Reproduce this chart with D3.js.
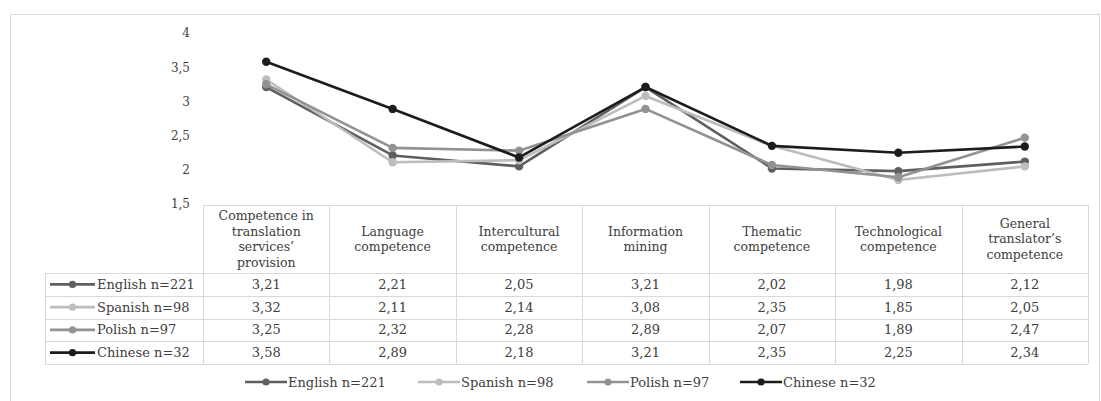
<!DOCTYPE html>
<html>
<head>
<meta charset="utf-8">
<script src="https://cdn.jsdelivr.net/npm/d3@7/dist/d3.min.js"></script>
<style>
  body { margin: 0; background: #fff; }
  svg { display: block; font-family: "DejaVu Serif", "Liberation Serif", serif; }
</style>
</head>
<body>
<div id="chart"></div>
<script>
// Competence self-assessment by language group - line chart with data table

const categories = [
    ['Competence in', 'translation', 'services\u2019', 'provision'],
    ['Language', 'competence'],
    ['Intercultural', 'competence'],
    ['Information', 'mining'],
    ['Thematic', 'competence'],
    ['Technological', 'competence'],
    ['General', 'translator\u2019s', 'competence']
];
const seriesNames = ['English n=221', 'Spanish n=98', 'Polish n=97', 'Chinese n=32'];
const english = [3.21, 2.21, 2.05, 3.21, 2.02, 1.98, 2.12];
const spanish = [3.32, 2.11, 2.14, 3.08, 2.35, 1.85, 2.05];
const polish  = [3.25, 2.32, 2.28, 2.89, 2.07, 1.89, 2.47];
const chinese = [3.58, 2.89, 2.18, 3.21, 2.35, 2.25, 2.34];
const yTicks = [1.5, 2, 2.5, 3, 3.5, 4];

const seriesColors = ['#5f5f5f', '#bdbdbd', '#929292', '#1c1c1c'];
const series = [english, spanish, polish, chinese].map((values, i) => ({
    name: seriesNames[i], values: values, color: seriesColors[i]
}));

const totalWidth = 1101, totalHeight = 401;
const svg = d3.select('#chart').append('svg')
    .attr('width', totalWidth)
    .attr('height', totalHeight);

// outer frame
svg.append('rect')
    .attr('x', 10.5).attr('y', 14.5)
    .attr('width', 1089).attr('height', 400)
    .style('fill', 'none')
    .style('stroke', '#d9d9d9');

// scales
const x = d3.scaleBand()
    .domain(d3.range(categories.length))
    .range([203, 1088])
    .paddingInner(0).paddingOuter(0);
const cx = i => x(i) + x.bandwidth() / 2;

const y = d3.scaleLinear()
    .domain([1.5, 4])
    .range([204, 33]);

const fmt = v => String(v).replace('.', ',');
const fmt2 = v => v.toFixed(2).replace('.', ',');

// y axis (labels only)
const yAxis = svg.append('g')
    .attr('transform', 'translate(193,0)')
    .call(d3.axisLeft(y).tickValues(yTicks).tickSize(0).tickPadding(3).tickFormat(fmt));
yAxis.select('.domain').remove();
yAxis.selectAll('text')
    .style('font-family', '"DejaVu Serif", serif')
    .style('font-size', '12px')
    .style('fill', '#404040');

// lines and markers
const line = d3.line()
    .x((d, i) => cx(i))
    .y(d => y(d));

const seriesG = svg.append('g').selectAll('g')
    .data(series)
    .enter().append('g');

seriesG.append('path')
    .attr('d', d => line(d.values))
    .style('fill', 'none')
    .style('stroke', d => d.color)
    .style('stroke-width', 2.6)
    .style('stroke-linejoin', 'round');

seriesG.each(function(s) {
    d3.select(this).selectAll('circle')
        .data(s.values)
        .enter().append('circle')
        .attr('cx', (d, i) => cx(i))
        .attr('cy', d => y(d))
        .attr('r', 4.2)
        .style('fill', s.color);
});

// data table
const tableTop = 205, headerBottom = 273, rowH = 22.75;
const tableLeft = 45, tableRight = 1088;
const grid = svg.append('g').style('stroke', '#d9d9d9').style('stroke-width', 1);
const tableBottom = headerBottom + rowH * series.length;

grid.append('line')
    .attr('x1', 203).attr('x2', tableRight)
    .attr('y1', tableTop + 0.5).attr('y2', tableTop + 0.5);
d3.range(series.length + 1).forEach(r => {
    const yy = Math.round(headerBottom + r * rowH) + 0.5;
    grid.append('line')
        .attr('x1', tableLeft).attr('x2', tableRight)
        .attr('y1', yy).attr('y2', yy);
});
grid.append('line')
    .attr('x1', tableLeft + 0.5).attr('x2', tableLeft + 0.5)
    .attr('y1', headerBottom).attr('y2', tableBottom);
d3.range(categories.length + 1).forEach(c => {
    const xx = Math.round(x.range()[0] + c * x.bandwidth()) + 0.5;
    grid.append('line')
        .attr('x1', xx).attr('x2', xx)
        .attr('y1', tableTop).attr('y2', tableBottom);
});

// header texts
const lineH = 15.5;
const headers = svg.append('g').selectAll('text')
    .data(categories)
    .enter().append('text')
    .attr('text-anchor', 'middle')
    .style('font-size', '12.5px')
    .style('fill', '#404040');
headers.each(function(lines, i) {
    const mid = (tableTop + headerBottom) / 2;
    const start = mid - (lines.length - 1) * lineH / 2;
    d3.select(this).selectAll('tspan')
        .data(lines)
        .enter().append('tspan')
        .attr('x', cx(i))
        .attr('y', (d, k) => start + k * lineH)
        .attr('dy', '0.35em')
        .text(d => d);
});

// rows: legend keys + values
series.forEach((s, r) => {
    const rowMid = headerBottom + r * rowH + rowH / 2;
    const row = svg.append('g');
    row.append('line')
        .attr('x1', 50).attr('x2', 95)
        .attr('y1', rowMid).attr('y2', rowMid)
        .style('stroke', s.color).style('stroke-width', 2.6);
    row.append('circle')
        .attr('cx', 72.5).attr('cy', rowMid).attr('r', 3.6)
        .style('fill', s.color);
    row.append('text')
        .attr('x', 97).attr('y', rowMid).attr('dy', '0.35em')
        .style('font-size', '13px')
        .style('fill', '#404040')
        .text(s.name);
    row.selectAll('.val')
        .data(s.values)
        .enter().append('text')
        .attr('class', 'val')
        .attr('x', (d, i) => cx(i))
        .attr('y', rowMid).attr('dy', '0.35em')
        .attr('text-anchor', 'middle')
        .style('font-size', '13px')
        .style('fill', '#404040')
        .text(fmt2);
});

// bottom legend
const legendX = [245, 418, 587, 740];
const legend = svg.append('g').selectAll('g')
    .data(series)
    .enter().append('g')
    .attr('transform', (d, i) => `translate(${legendX[i]},382)`);
legend.append('line')
    .attr('x1', 0).attr('x2', 42)
    .style('stroke', d => d.color).style('stroke-width', 2.6);
legend.append('circle')
    .attr('cx', 21).attr('r', 3.6)
    .style('fill', d => d.color);
legend.append('text')
    .attr('x', 43).attr('dy', '0.35em')
    .style('font-size', '13px')
    .style('fill', '#404040')
    .text(d => d.name);
</script>
</body>
</html>
